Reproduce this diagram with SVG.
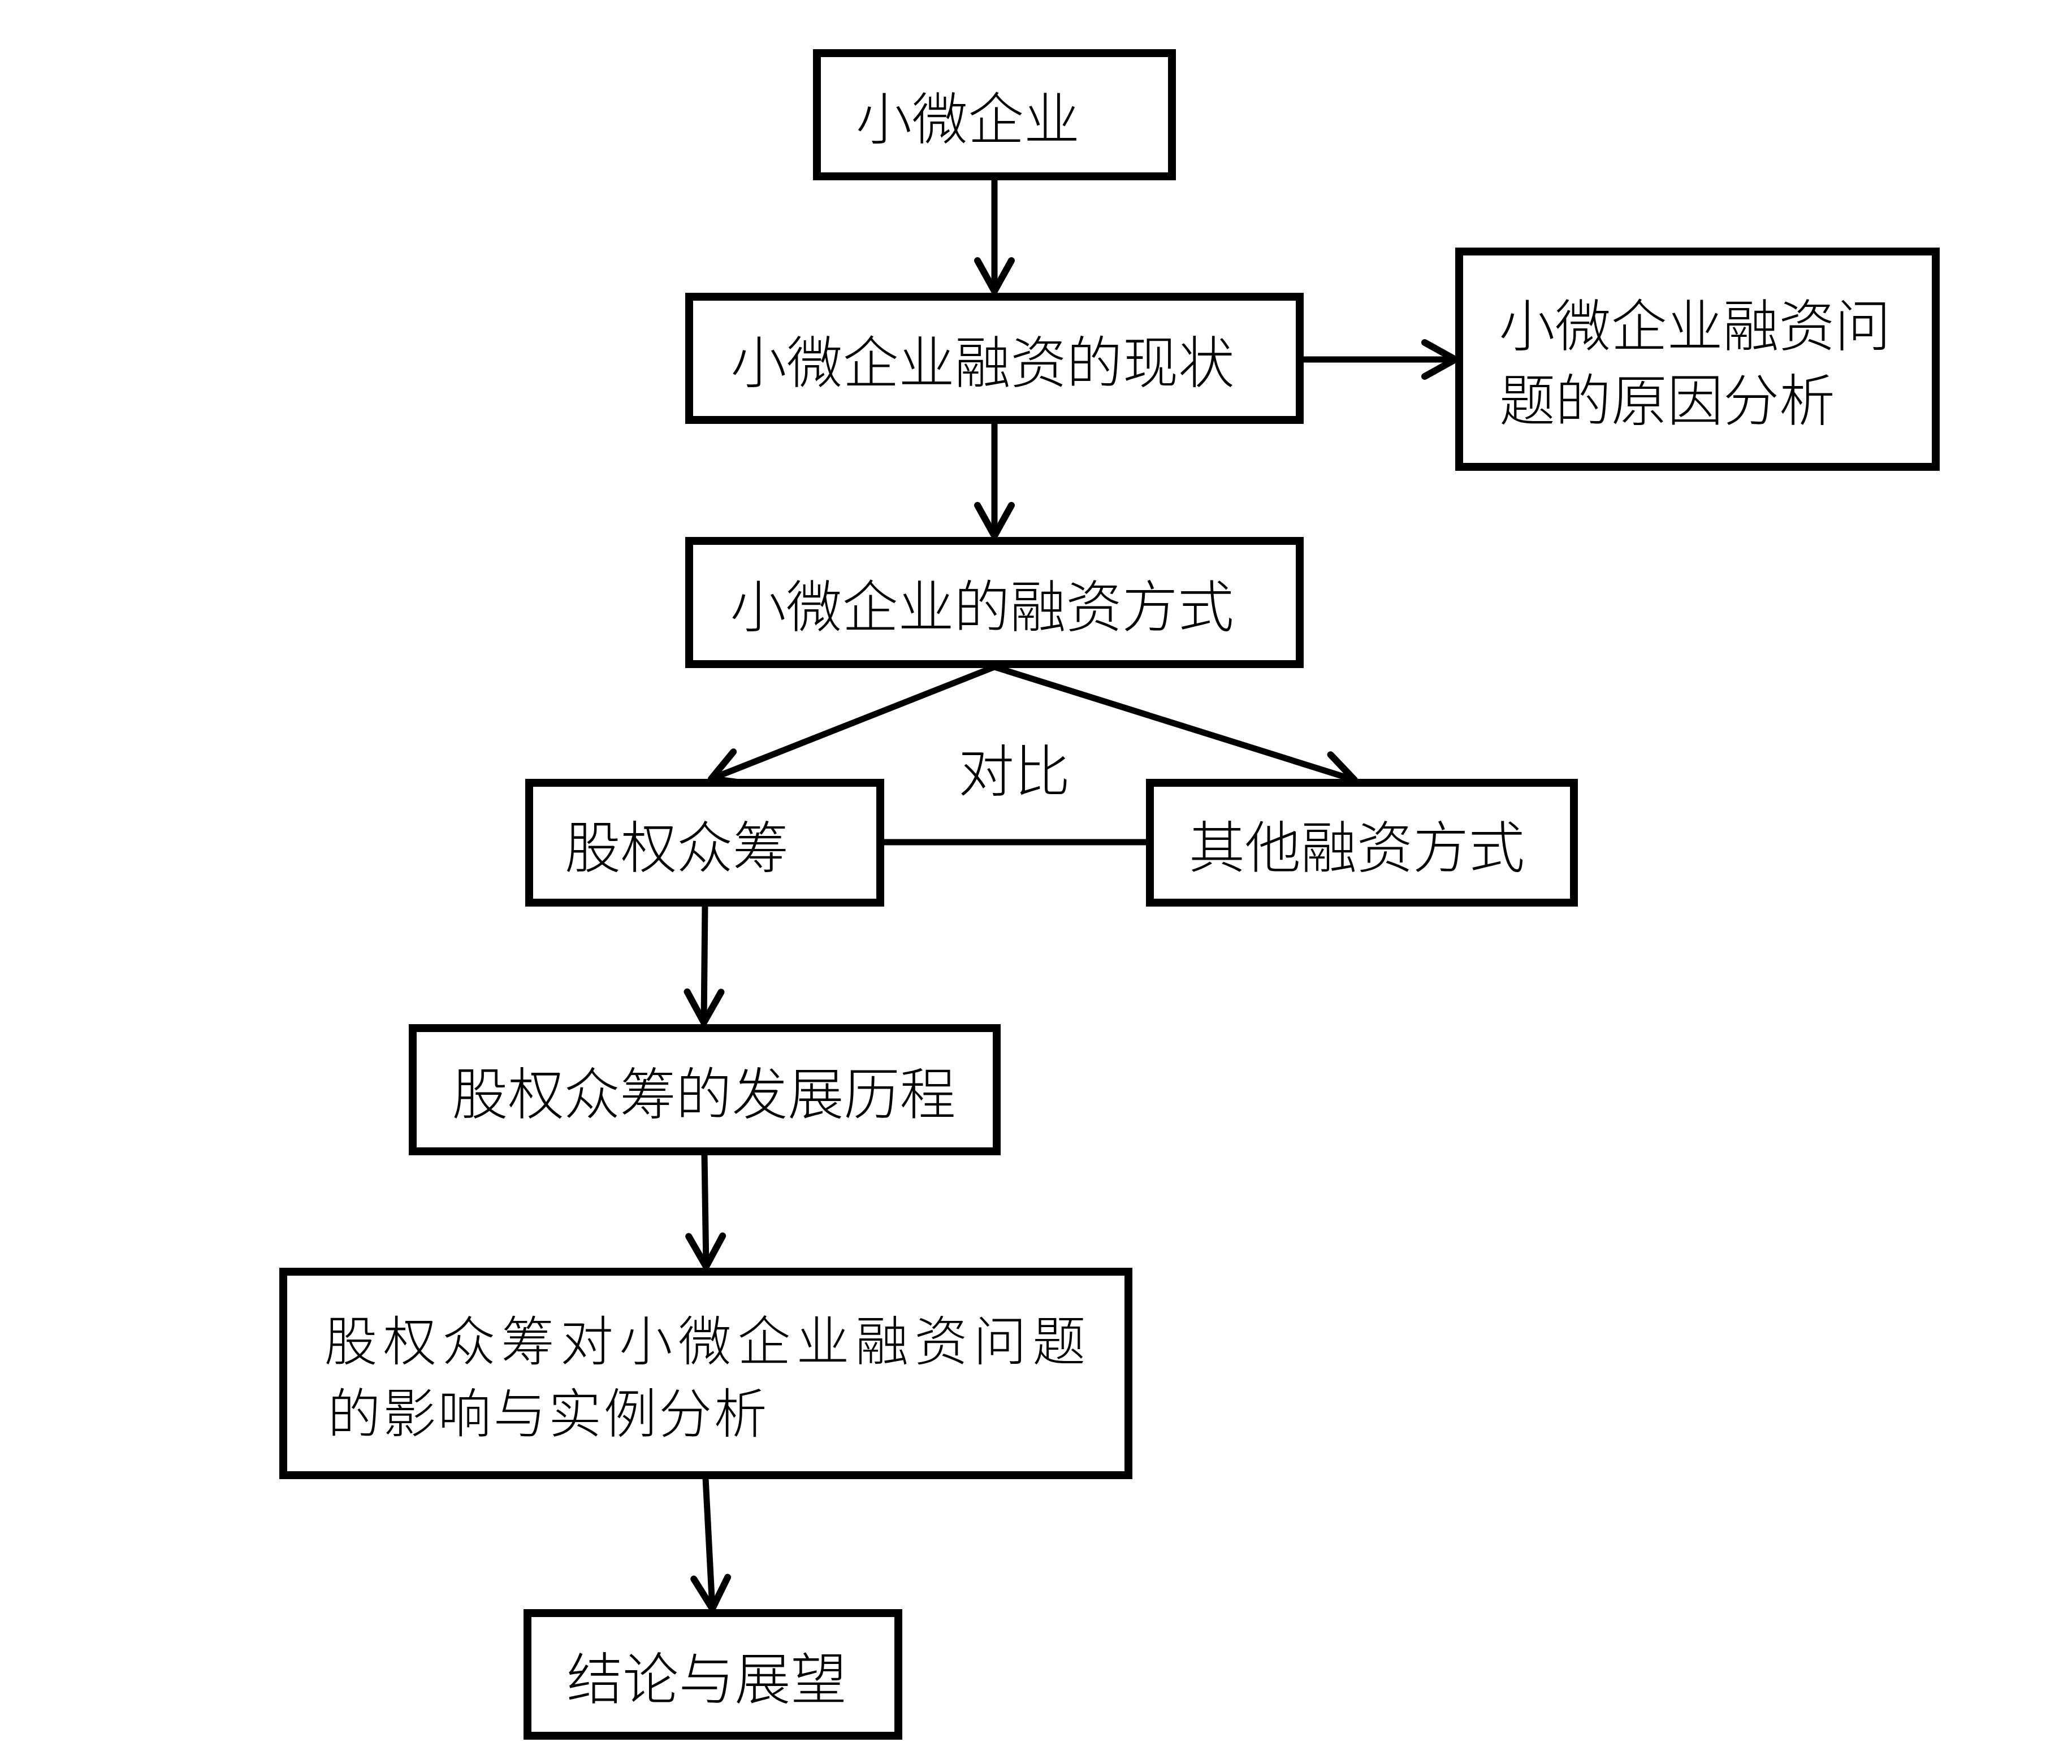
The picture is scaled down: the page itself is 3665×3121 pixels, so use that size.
<svg xmlns="http://www.w3.org/2000/svg" width="3665" height="3121" viewBox="0 0 3665 3121">
  <style>
    .box { fill: #ffffff; stroke: #000000; stroke-width: 14; }
    .lbl { font-family: "Noto Sans CJK SC", "Noto Sans", sans-serif; font-size: 99px; font-weight: 300; fill: #000000; text-anchor: middle; dominant-baseline: central; }
    .sm { font-size: 94px; }
    .con { fill: none; stroke: #000000; stroke-width: 11; stroke-linecap: round; }
  </style>
  <defs>
    <marker id="arr" markerUnits="userSpaceOnUse" markerWidth="90" markerHeight="90" viewBox="-70 -45 90 90" refX="0" refY="0" orient="auto" overflow="visible">
      <path d="M-54,-30 L0,0 L-54,30" fill="none" stroke="#000000" stroke-width="12" stroke-linecap="round" stroke-linejoin="round"/>
    </marker>
  </defs>
  <rect x="0" y="0" width="3665" height="3121" fill="#ffffff"/>

  <g id="connectors">
    <line class="con" x1="1759" y1="315" x2="1759" y2="515" stroke-width="12" marker-end="url(#arr)"/>
    <line class="con" x1="1759" y1="748" x2="1759" y2="948" stroke-width="9" marker-end="url(#arr)"/>
    <line class="con" x1="2304" y1="636" x2="2574" y2="636" stroke-width="12" marker-end="url(#arr)"/>
    <line class="con" x1="1759" y1="1180" x2="1258" y2="1378" marker-end="url(#arr)"/>
    <line class="con" x1="1759" y1="1180" x2="2396" y2="1380" marker-end="url(#arr)"/>
    <line class="con" x1="1560" y1="1490" x2="2030" y2="1490"/>
    <line class="con" x1="1247" y1="1602" x2="1245" y2="1809" stroke-width="10" marker-end="url(#arr)"/>
    <line class="con" x1="1246" y1="2042" x2="1249" y2="2241" stroke-width="10" marker-end="url(#arr)"/>
    <line class="con" x1="1248" y1="2615" x2="1260" y2="2846" stroke-width="10" marker-end="url(#arr)"/>
    <text class="lbl" x="1794" y="1357">对比</text>
  </g>

  <g id="n1">
    <rect class="box" x="1445" y="94" width="628" height="218"/>
    <text class="lbl" x="1712" y="203">小微企业</text>
  </g>
  <g id="n2">
    <rect class="box" x="1219" y="525" width="1080" height="218"/>
    <text class="lbl" x="1738" y="634">小微企业融资的现状</text>
  </g>
  <g id="n3">
    <rect class="box" x="2581" y="445" width="843" height="381"/>
    <text class="lbl" x="2998" y="569">小微企业融资问</text>
    <text class="lbl" x="2949" y="701">题的原因分析</text>
  </g>
  <g id="n4">
    <rect class="box" x="1219" y="957" width="1080" height="218"/>
    <text class="lbl" x="1737" y="1066">小微企业的融资方式</text>
  </g>
  <g id="n5">
    <rect class="box" x="936" y="1385" width="621" height="212"/>
    <text class="lbl" x="1197" y="1492">股权众筹</text>
  </g>
  <g id="n6">
    <rect class="box" x="2034" y="1385" width="750" height="212"/>
    <text class="lbl" x="2400" y="1492">其他融资方式</text>
  </g>
  <g id="n7">
    <rect class="box" x="730" y="1819" width="1033" height="218"/>
    <text class="lbl" x="1245" y="1928">股权众筹的发展历程</text>
  </g>
  <g id="n8">
    <rect class="box" x="501" y="2250" width="1495" height="360"/>
    <text class="lbl sm" x="1252" y="2366" letter-spacing="10.4">股权众筹对小微企业融资问题</text>
    <text class="lbl sm" x="970" y="2494" letter-spacing="3.6">的影响与实例分析</text>
  </g>
  <g id="n9">
    <rect class="box" x="933" y="2854" width="656" height="217"/>
    <text class="lbl" x="1250" y="2963">结论与展望</text>
  </g>
</svg>
